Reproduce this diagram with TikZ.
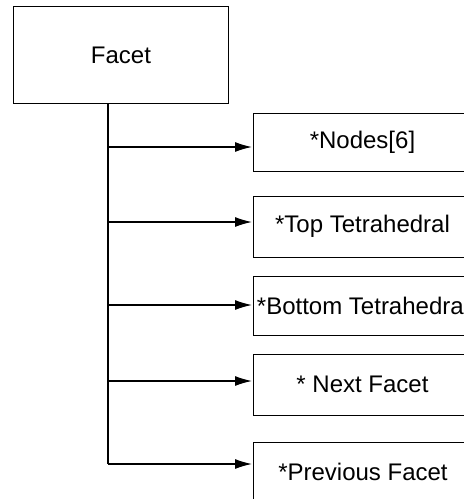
\documentclass[tikz,border=0pt]{standalone}
\usepackage{fontspec}
\setmainfont{Liberation Sans}
\usetikzlibrary{arrows.meta}
\begin{document}
\begin{tikzpicture}[x=1pt,y=-1pt,
  box/.style={draw,line width=1.3pt,inner sep=0pt,anchor=north west},
  lbl/.style={font=\fontsize{24}{28}\selectfont},
  link/.style={line width=1.3pt},
  arr/.style={link,-{Latex[length=17pt,width=10pt]},shorten >=1pt}]
\useasboundingbox (0,0) rectangle (464,499);
\clip (0,0) rectangle (464,499);
% root record
\node[box,minimum width=215pt,minimum height=97pt] (facet) at (13,6) {};
\node[lbl] (facetlbl) at (121,55) {Facet};
% member boxes, running past the right border
\node[box,minimum width=219pt,minimum height=58pt] (n1) at (253,113) {};
\node[box,minimum width=219pt,minimum height=61pt] (n2) at (253,196) {};
\node[box,minimum width=219pt,minimum height=59pt] (n3) at (253,276) {};
\node[box,minimum width=219pt,minimum height=61pt] (n4) at (253,354) {};
\node[box,minimum width=219pt,minimum height=64pt] (n5) at (253,442) {};
\node[lbl] (t1) at (362.5,142) {*Nodes[6]};
\node[lbl] (t2) at (362.5,226.5) {*Top Tetrahedral};
\node[lbl] (t3) at (363,306) {*Bottom Tetrahedral};
\node[lbl] (t4) at (362.5,384.5) {* Next Facet};
\node[lbl] (t5) at (363,472) {*Previous Facet};
% trunk and branch points
\coordinate (b1) at (108,147);
\coordinate (b2) at (108,222);
\coordinate (b3) at (108,305);
\coordinate (b4) at (108,381);
\coordinate (b5) at (108,464);
\draw[link] (facet.south -| b1) -- (b5);
\draw[arr] (b1) -- (b1 -| n1.west);
\draw[arr] (b2) -- (b2 -| n2.west);
\draw[arr] (b3) -- (b3 -| n3.west);
\draw[arr] (b4) -- (b4 -| n4.west);
\draw[arr] (b5) -- (b5 -| n5.west);
\end{tikzpicture}
\end{document}
